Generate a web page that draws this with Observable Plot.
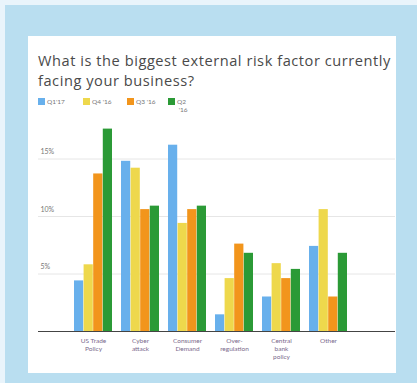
<!DOCTYPE html>
<html><head><meta charset="utf-8">
<script src="https://cdn.jsdelivr.net/npm/d3@7"></script>
<script src="https://cdn.jsdelivr.net/npm/@observablehq/plot@0.6"></script>
<style>
html,body{margin:0;padding:0;}
body{width:417px;height:383px;position:relative;overflow:hidden;background:#b9def0;font-family:Lato,"Open Sans",sans-serif;}
#edgeT{position:absolute;left:0;top:0;width:417px;height:5px;background:#e9f4fb;}
#edgeL{position:absolute;left:0;top:0;width:5px;height:383px;background:#e9f4fb;}
#card{position:absolute;left:28px;top:36px;width:368px;height:337px;background:#fff;}
#title{position:absolute;left:38px;top:50px;width:356px;font-family:"Open Sans",sans-serif;font-size:14.6px;letter-spacing:0.55px;line-height:20px;color:#4a4a4a;}
#legend{position:absolute;left:38px;top:98px;font-size:6.5px;color:#777;}
.li{position:absolute;top:0;white-space:nowrap;}
.sw{display:inline-block;width:7px;height:7px;vertical-align:-1px;margin-right:2px;}
#chart{position:absolute;left:0;top:0;}
</style></head>
<body>
<div id="edgeT"></div><div id="edgeL"></div>
<div id="card"></div>
<div id="title">What is the biggest external risk factor currently facing your business?</div>
<div id="legend"></div>
<div id="chart"></div>
<script>
const categories = ["US Trade Policy","Cyber attack","Consumer Demand","Over-regulation","Central bank policy","Other"];
const categoryLabels = ["US Trade\nPolicy","Cyber\nattack","Consumer\nDemand","Over-\nregulation","Central\nbank\npolicy","Other"];
const series = ["Q1'17","Q4 '16","Q3 '16","Q2 '16"];
const seriesLegend = ["Q1'17","Q4 '16","Q3 '16","Q2<br>&nbsp;'16"];
const colors = ["#68b0ec","#eed84c","#f2951c","#2b9a36"];
const q1_17 = [4.4, 14.8, 16.2, 1.45, 3.0, 7.4];
const q4_16 = [5.8, 14.2, 9.4, 4.6, 5.9, 10.6];
const q3_16 = [13.7, 10.6, 10.6, 7.6, 4.6, 3.0];
const q2_16 = [17.6, 10.9, 10.9, 6.8, 5.4, 6.8];
const yTicks = [5, 10, 15];

const values = [q1_17, q4_16, q3_16, q2_16];
const data = [];
series.forEach((s, i) => categories.forEach((c, j) => data.push({category: c, series: s, value: values[i][j]})));

const W = 417, H = 383, mL = 38, mR = 22, mT = 101, mB = 52;
const xOpts = {paddingInner: 0.2, paddingOuter: 0.82, align: 0.43};
const bw = d3.scaleBand().domain(categories).range([mL, W - mR])
  .paddingInner(xOpts.paddingInner).paddingOuter(xOpts.paddingOuter).align(xOpts.align).bandwidth();
const sub = bw / series.length;

const barMarks = series.map((s, i) => Plot.barY(data.filter(d => d.series === s), {
  x: "category", y: "value", fill: colors[i],
  insetLeft: i * sub, insetRight: (series.length - 1 - i) * sub
}));

const plot = Plot.plot({
  width: W, height: H,
  marginLeft: mL, marginRight: mR, marginTop: mT, marginBottom: mB,
  style: {background: "transparent", fontFamily: "Lato, sans-serif"},
  x: {domain: categories, ...xOpts, axis: null},
  y: {domain: [0, 20], axis: null},
  marks: [
    Plot.ruleY(yTicks, {stroke: "#e6e6e6", strokeWidth: 1}),
    ...barMarks,
    Plot.ruleY([0], {stroke: "#444", strokeWidth: 1.2}),
    Plot.text(yTicks, {y: d => d, text: d => d + "%", frameAnchor: "left", textAnchor: "start", dx: 2, dy: -7, fontSize: 7, fill: "#777"}),
    Plot.text(categories, {x: d => d, text: (d, i) => categoryLabels[i], frameAnchor: "bottom", lineAnchor: "top", dy: 6, fontSize: 6.5, lineHeight: 1.2, fill: "#7a6a8c"})
  ]
});
document.getElementById("chart").appendChild(plot);

const lx = [0, 45, 89, 130];
document.getElementById("legend").innerHTML = series.map((s, i) =>
  `<span class="li" style="left:${lx[i]}px"><span class="sw" style="background:${colors[i]}"></span><span style="display:inline-block;vertical-align:top;line-height:8px">${seriesLegend[i]}</span></span>`).join("");
</script>
</body></html>
